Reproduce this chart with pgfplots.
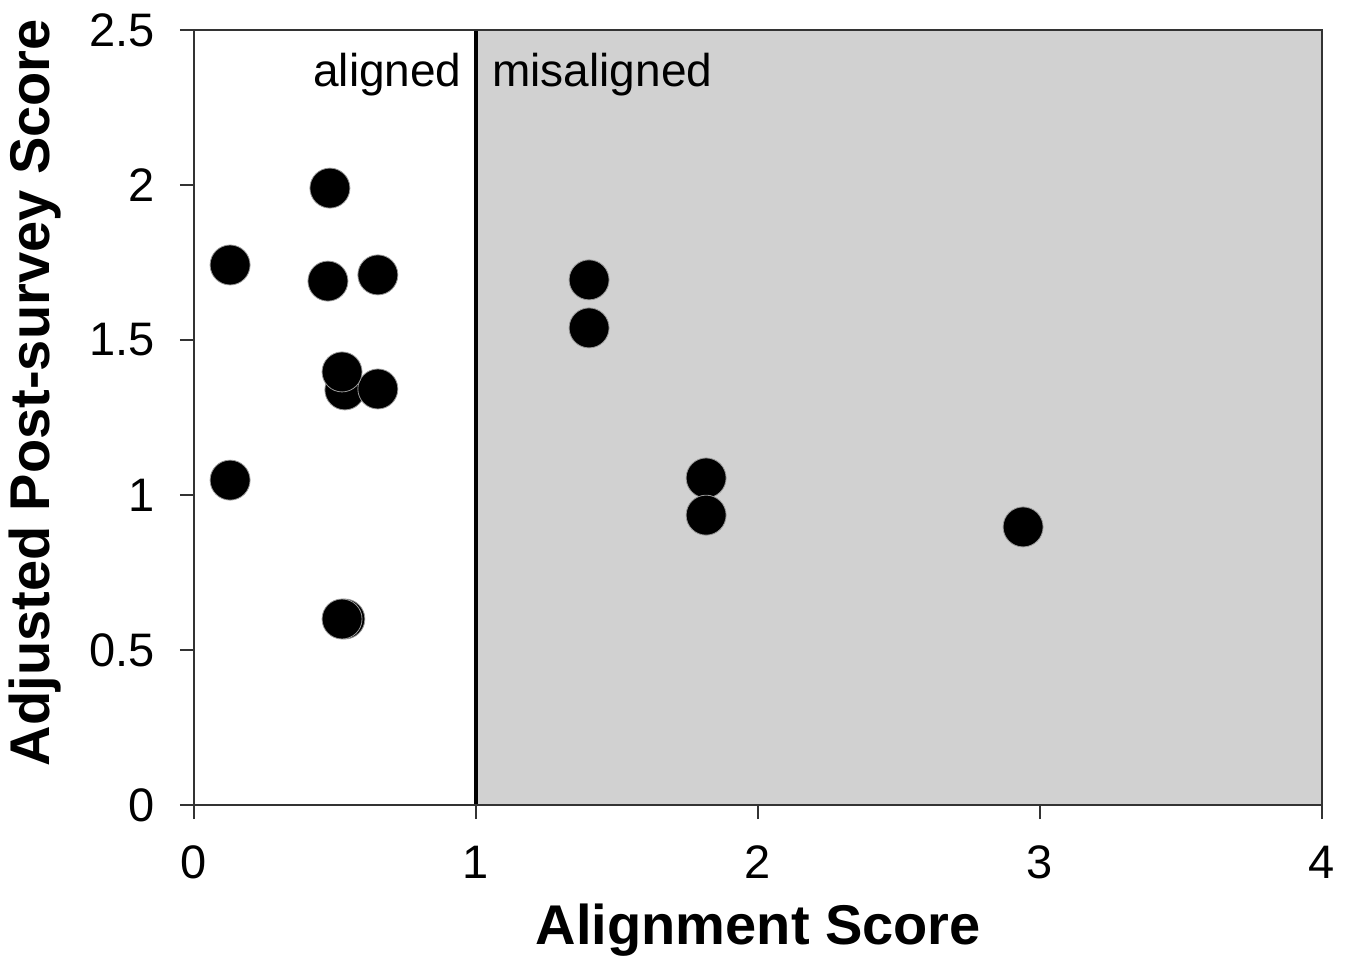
\documentclass[border=0pt]{standalone}
\usepackage{fontspec}
\setmainfont{Liberation Sans}
\usepackage{pgfplots}
\pgfplotsset{compat=1.18}
\begin{document}
\begin{tikzpicture}
\begin{axis}[
  scale only axis, width=564pt, height=387.5pt,
  xmin=0, xmax=4, ymin=0, ymax=2.5,
  xtick={0,1,2,3,4}, ytick={0,0.5,1,1.5,2,2.5},
  xtick pos=bottom, ytick pos=left,
  tick align=outside, major tick length=7pt,
  tick style={black!80, line width=0.6pt},
  axis line style={black!80, line width=0.75pt},
  /pgf/number format/assume math mode=true,
  ticklabel style={font=\fontsize{23.5}{27}\selectfont},
  xticklabel style={yshift=-10pt},
  yticklabel style={xshift=-9pt},
  label style={font=\bfseries\fontsize{28}{33}\selectfont},
  xlabel={Alignment Score},
  ylabel={Adjusted Post-survey Score},
  xlabel style={at={(axis description cs:0.5004,-0.1806)}, anchor=base},
  ylabel style={at={(axis description cs:-0.141,0.532)}, anchor=center},
  axis on top,
]
\coordinate (sw) at (rel axis cs:0,0);
\coordinate (ne) at (rel axis cs:1,1);
\addplot[fill=black!18, draw=black!80, line width=0.6pt] coordinates {(1,0) (1,2.5) (4,2.5) (4,0) (1,0)};
\addplot[black, line width=2pt] coordinates {(1,0) (1,2.5)};
\node[anchor=base east, font=\fontsize{23}{27}\selectfont, inner sep=0pt] at ([xshift=-7pt]axis cs:1,2.319) {aligned};
\node[anchor=base west, font=\fontsize{23}{27}\selectfont, inner sep=0pt] at ([xshift=8pt]axis cs:1,2.319) {misaligned};
\addplot[only marks, mark=*, mark size=10pt, mark options={fill=black, draw=black!40, line width=0.4pt}] coordinates {
  (0.128,1.742)
  (0.128,1.048)
  (0.482,1.990)
  (0.475,1.690)
  (0.652,1.710)
  (0.535,1.339)
  (0.652,1.342)
  (0.525,1.397)
  (0.535,0.600)
  (0.525,0.600)
  (1.401,1.694)
  (1.401,1.539)
  (1.816,1.055)
  (1.816,0.935)
  (2.940,0.897)
};
\end{axis}
\pgfresetboundingbox
\path ([shift={(-97pt,-76pt)}]sw) rectangle ([shift={(11.5pt,15pt)}]ne);
\end{tikzpicture}
\end{document}
